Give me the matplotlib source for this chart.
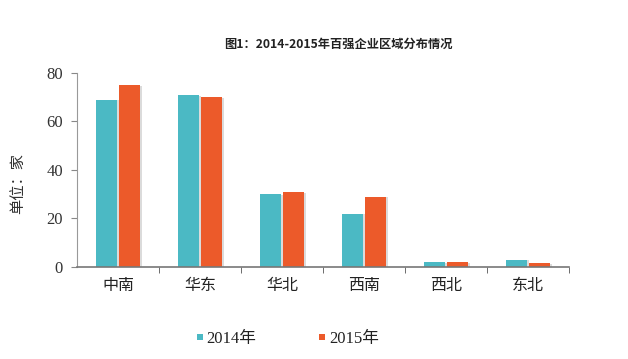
import matplotlib
matplotlib.use("Agg")
import matplotlib.pyplot as plt
import matplotlib.patheffects as pe
from matplotlib.lines import Line2D
import numpy as np

plt.rcParams['font.family'] = ['Noto Sans CJK SC', 'DejaVu Sans']

# data
regions = ['中南', '华东', '华北', '西南', '西北', '东北']
y2014 = [69, 71, 30, 22, 2, 3]
y2015 = [75, 70, 31, 29, 2, 1.5]
series_names = ['2014年', '2015年']

c2014 = '#4bb9c4'
c2015 = '#ec5a2a'
serif = ['Liberation Serif', 'Noto Sans CJK SC']

fig = plt.figure(figsize=(6.28, 3.59), dpi=100)
ax = fig.add_axes([0.1226, 0.2563, 0.7834, 0.5404])

x = np.arange(len(regions))
w = 0.26
shadow = [pe.SimplePatchShadow(offset=(1.5, -0.5), shadow_rgbFace='#999999', alpha=0.35), pe.Normal()]
ax.bar(x - 0.14, y2014, w, color=c2014, label=series_names[0], path_effects=shadow)
ax.bar(x + 0.14, y2015, w, color=c2015, label=series_names[1], path_effects=shadow)

ax.set_xlim(-0.5, len(regions) - 0.5)
ax.set_ylim(0, 80)
ax.set_yticks([0, 20, 40, 60, 80])
ax.set_yticklabels(['0', '20', '40', '60', '80'], fontfamily='Liberation Serif', fontsize=12, color='#333333')

# category labels centred, tick marks between categories
ax.set_xticks(x)
ax.set_xticklabels(regions, fontsize=11.5, color='#222222')
ax.tick_params(axis='x', length=0, pad=7)
ax.set_xticks(np.arange(len(regions)) + 0.5, minor=True)
ax.tick_params(axis='x', which='minor', length=4, color='#555555', direction='out')
ax.tick_params(axis='y', length=4, color='#888888', pad=6)

for s in ['top', 'right']:
    ax.spines[s].set_visible(False)
ax.spines['left'].set_color('#999999')
ax.spines['bottom'].set_color('#777777')
ax.spines['bottom'].set_linewidth(1.2)

ax.set_ylabel('单位：家', fontsize=11, color='#333333')
ax.yaxis.set_label_coords(-0.103, 0.43)

fig.text(0.5385, 0.877, '图1：2014-2015年百强企业区域分布情况', ha='center', va='center',
         fontsize=8.8, fontweight='bold', color='#222222')

# small square legend markers
handles = [Line2D([], [], linestyle='none', marker='s', markersize=4.5, markeredgewidth=0, color=c)
           for c in (c2014, c2015)]
leg = fig.legend(handles=handles, labels=series_names, loc='center', bbox_to_anchor=(0.458, 0.056),
                 ncol=2, frameon=False, fontsize=12, handlelength=0.4,
                 handletextpad=0.2, columnspacing=3.75)
for t in leg.get_texts():
    t.set_fontfamily(serif)
    t.set_color('#222222')

fig.savefig('out.png', dpi=100)
